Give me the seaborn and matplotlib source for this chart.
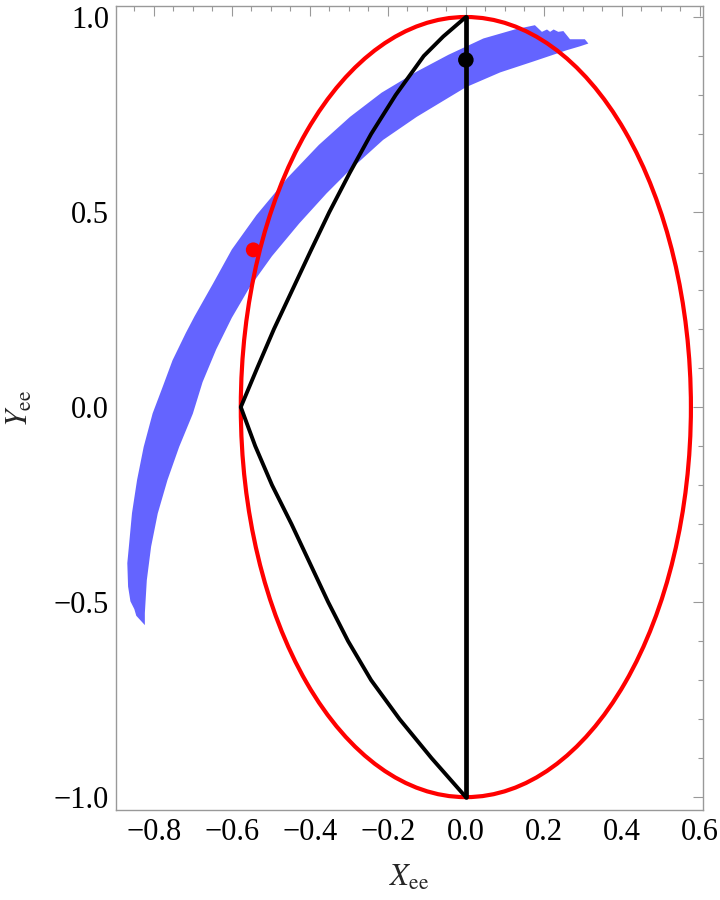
import numpy as np
import pandas as pd
import matplotlib
matplotlib.use("Agg")
import matplotlib.pyplot as plt
import seaborn as sns
from matplotlib.patches import Ellipse
from matplotlib.ticker import MultipleLocator, FuncFormatter

# ---------------- data ----------------
# blue allowed band: outer (upper-left) edge, bottom -> top
band_outer_x = [-0.823, -0.845, -0.850, -0.860, -0.866, -0.868, -0.864, -0.856, -0.843,
                -0.826, -0.803, -0.778, -0.752, -0.718, -0.696, -0.648, -0.600, -0.537,
                -0.457, -0.377, -0.297, -0.216, -0.126, -0.045, 0.045, 0.125, 0.177,
                0.195, 0.208, 0.216, 0.225, 0.237, 0.250, 0.267, 0.305, 0.314]
band_outer_y = [-0.559, -0.535, -0.518, -0.498, -0.460, -0.400, -0.358, -0.272, -0.187,
                -0.102, -0.016, 0.050, 0.120, 0.190, 0.232, 0.317, 0.404, 0.492,
                0.588, 0.672, 0.744, 0.806, 0.860, 0.903, 0.945, 0.968, 0.979,
                0.962, 0.968, 0.962, 0.968, 0.962, 0.964, 0.943, 0.943, 0.932]
# inner (lower-right) edge, top -> bottom
band_inner_x = [0.293, 0.259, 0.173, 0.088, 0.000, -0.126, -0.212, -0.297, -0.357,
                -0.427, -0.497, -0.555, -0.600, -0.640, -0.675, -0.700, -0.735, -0.765,
                -0.790, -0.807, -0.818, -0.823]
band_inner_y = [0.925, 0.915, 0.886, 0.858, 0.820, 0.744, 0.685, 0.608, 0.548,
                0.471, 0.387, 0.306, 0.229, 0.148, 0.064, -0.017, -0.102, -0.187,
                -0.273, -0.358, -0.444, -0.528]

# ellipse (semi-axes) in red
ellipse_center = (0.0, 0.0)
ellipse_semi_x = 0.577
ellipse_semi_y = 1.0

# black boundary curves
upper_x = [-0.577, -0.535, -0.492, -0.445, -0.398, -0.350, -0.298, -0.243, -0.180,
           -0.108, -0.058, 0.0]
upper_y = [0.0, 0.1, 0.2, 0.3, 0.4, 0.5, 0.6, 0.7, 0.8, 0.9, 0.95, 1.0]
lower_x = [-0.577, -0.540, -0.497, -0.447, -0.400, -0.353, -0.302, -0.243, -0.170,
           -0.088, 0.0]
lower_y = [0.0, -0.1, -0.2, -0.3, -0.4, -0.5, -0.6, -0.7, -0.8, -0.9, -1.0]
vert_x = [0.0, 0.0]
vert_y = [-1.0, 1.0]

# points
red_pt_x, red_pt_y = [-0.545], [0.403]
black_pt_x, black_pt_y = [0.0], [0.890]

# ---------------- plot ----------------
sns.set_theme(style="white")
plt.rcParams["font.family"] = ["Liberation Serif", "DejaVu Serif"]
plt.rcParams["mathtext.fontset"] = "stix"
plt.rcParams["axes.unicode_minus"] = True

fig = plt.figure(figsize=(7.2, 9.0), dpi=100)
ax = fig.add_axes([0.1611, 0.1, 0.8153, 0.8928])

band_x = band_outer_x + band_inner_x
band_y = band_outer_y + band_inner_y
ax.fill(band_x, band_y, color="#6464FF", lw=0, zorder=1)

ax.add_patch(Ellipse(ellipse_center, 2 * ellipse_semi_x, 2 * ellipse_semi_y,
                     fill=False, edgecolor="#FF0000", lw=3.0, zorder=3))

df_up = pd.DataFrame({"x": upper_x, "y": upper_y})
df_lo = pd.DataFrame({"x": lower_x, "y": lower_y})
df_v = pd.DataFrame({"x": vert_x, "y": vert_y})
for d, w in ((df_up, 2.8), (df_lo, 2.8), (df_v, 3.4)):
    sns.lineplot(data=d, x="x", y="y", sort=False, estimator=None, color="black",
                 lw=w, ax=ax, zorder=4, solid_joinstyle="round")

sns.scatterplot(x=red_pt_x, y=red_pt_y, color="#FF0000", s=115, edgecolor="none",
                ax=ax, zorder=5)
sns.scatterplot(x=black_pt_x, y=black_pt_y, color="black", s=125, edgecolor="none",
                ax=ax, zorder=5)

ax.set_xlim(-0.897, 0.608)
ax.set_ylim(-1.033, 1.027)

ax.xaxis.set_major_locator(MultipleLocator(0.2))
ax.xaxis.set_minor_locator(MultipleLocator(0.05))
ax.yaxis.set_major_locator(MultipleLocator(0.5))
ax.yaxis.set_minor_locator(MultipleLocator(0.1))
fmt = FuncFormatter(lambda v, p: ("%.1f" % v).replace("-", "\u2212") if abs(v) > 1e-9 else "0.0")
ax.xaxis.set_major_formatter(fmt)
ax.yaxis.set_major_formatter(fmt)

ax.tick_params(which="both", direction="in", top=True, right=True,
               color="#999999", width=0.8, labelsize=22, labelcolor="black")
ax.tick_params(which="major", length=7)
ax.tick_params(which="minor", length=3.5)
ax.tick_params(axis="y", which="major", pad=5)
ax.tick_params(axis="x", which="major", pad=6)
ax.tick_params(axis="x", which="both", labeltop=False)
ax.tick_params(axis="y", which="both", labelright=False)

for s in ax.spines.values():
    s.set_color("#999999")
    s.set_linewidth(1.0)

ax.set_xlabel(r"$X_{\mathrm{ee}}$", fontsize=22, va="center")
ax.set_ylabel(r"$Y_{\mathrm{ee}}$", fontsize=22, va="center")
ax.xaxis.set_label_coords(0.5, -0.085)
ax.yaxis.set_label_coords(-0.163, 0.5)

fig.savefig("out.png", dpi=100)
